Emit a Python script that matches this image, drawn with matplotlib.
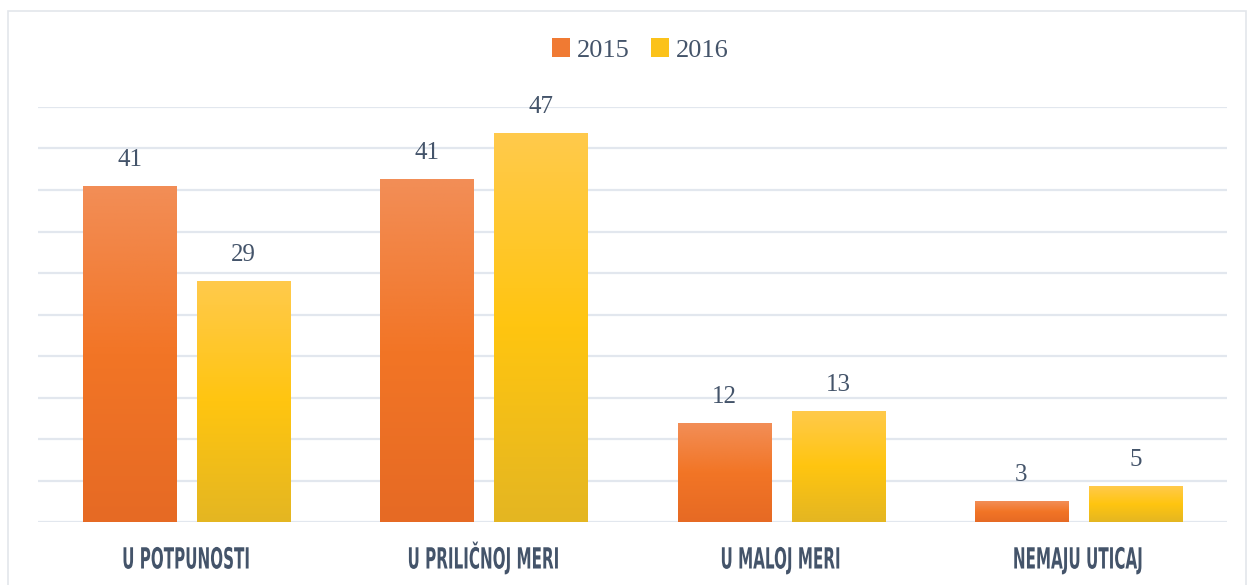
import matplotlib
matplotlib.use("Agg")
import matplotlib.pyplot as plt
import numpy as np
from matplotlib.colors import LinearSegmentedColormap
from matplotlib.patches import Rectangle
from matplotlib import patheffects
from matplotlib.transforms import Affine2D

categories = ["U POTPUNOSTI", "U PRILIČNOJ MERI", "U MALOJ MERI", "NEMAJU UTICAJ"]
series_names = ["2015", "2016"]
values_2015 = [40.5, 41.3, 11.9, 2.5]
values_2016 = [29.0, 46.9, 13.4, 4.3]
labels_2015 = ["41", "41", "12", "3"]
labels_2016 = ["29", "47", "13", "5"]

text_color = "#44546A"
grid_color = "#E2E7EE"
serif = ["Liberation Serif", "DejaVu Serif"]

orange_cmap = LinearSegmentedColormap.from_list("o", ["#E66A24", "#F27526", "#F28E57"])
yellow_cmap = LinearSegmentedColormap.from_list("y", ["#E4B622", "#FFC510", "#FFCA4C"])


class Squeeze(patheffects.AbstractPathEffect):
    """Horizontally condense text glyphs around their centre."""
    def __init__(self, sx):
        super().__init__()
        self.sx = sx

    def draw_path(self, renderer, gc, tpath, affine, rgbFace=None):
        verts = affine.transform(tpath.vertices)
        cx = 0.5 * (verts[:, 0].min() + verts[:, 0].max())
        new = affine + Affine2D().translate(-cx, 0).scale(self.sx, 1).translate(cx, 0)
        renderer.draw_path(gc, tpath, new, rgbFace)


fig = plt.figure(figsize=(12.47, 5.85), dpi=100)
ax = fig.add_axes([38/1247, (585-522)/585, 1189/1247, 415/585])

x = np.arange(len(categories))
w = 0.313
off = 0.192

for yv in np.arange(0, 51, 5):
    ax.axhline(yv, color=grid_color, lw=1.6, zorder=0)

grad = np.linspace(0, 1, 256).reshape(-1, 1)


def grad_bars(xs, vals, cmap, name):
    bars = ax.bar(xs, vals, width=w, color="none", edgecolor="none", zorder=2, label=name)
    for b in bars:
        x0, y0 = b.get_x(), b.get_y()
        bw, bh = b.get_width(), b.get_height()
        im = ax.imshow(grad, cmap=cmap, aspect="auto", origin="lower",
                       extent=[x0, x0 + bw, y0, y0 + bh], zorder=2)
        im.set_clip_path(b)
    return bars


grad_bars(x - off, values_2015, orange_cmap, "2015")
grad_bars(x + off, values_2016, yellow_cmap, "2016")
ax.set_xlim(-0.5, len(categories) - 0.5)
ax.set_ylim(0, 50)

for xs, vals, labs in [(x - off, values_2015, labels_2015), (x + off, values_2016, labels_2016)]:
    for xi, v, l in zip(xs, vals, labs):
        ax.annotate(l, (xi, v), xytext=(0, 14.5), textcoords="offset points",
                    ha="center", va="baseline", fontsize=18, color=text_color,
                    family=serif)

# category labels (condensed bold caps)
ax.set_xticks([])
ax.set_yticks([])
for xi, c in zip(x, categories):
    ax.annotate(c, (xi, 0), xycoords=("data", "axes fraction"),
                xytext=(0, -33.5), textcoords="offset points",
                ha="center", va="baseline", fontsize=21, fontweight="bold",
                color=text_color, family=["DejaVu Sans"],
                path_effects=[Squeeze(0.52)])
for s in ax.spines.values():
    s.set_visible(False)

# legend
handles = [Rectangle((0, 0), 1, 1, facecolor="#F07A33"), Rectangle((0, 0), 1, 1, facecolor="#FBC21A")]
leg = fig.legend(handles, series_names, loc="center", bbox_to_anchor=(640/1247, 1 - 50/585),
                 ncol=2, frameon=False, handlelength=0.7, handleheight=0.7,
                 handletextpad=0.25, columnspacing=0.8,
                 prop={"family": serif, "size": 19})
for t in leg.get_texts():
    t.set_color(text_color)

# outer frame
fig.add_artist(Rectangle((8/1247, -0.01), (1246-8)/1247, 1 - 11/585 + 0.01, transform=fig.transFigure,
                         fill=False, edgecolor="#E3E6EB", lw=1.2))

fig.savefig("out.png", dpi=100)
